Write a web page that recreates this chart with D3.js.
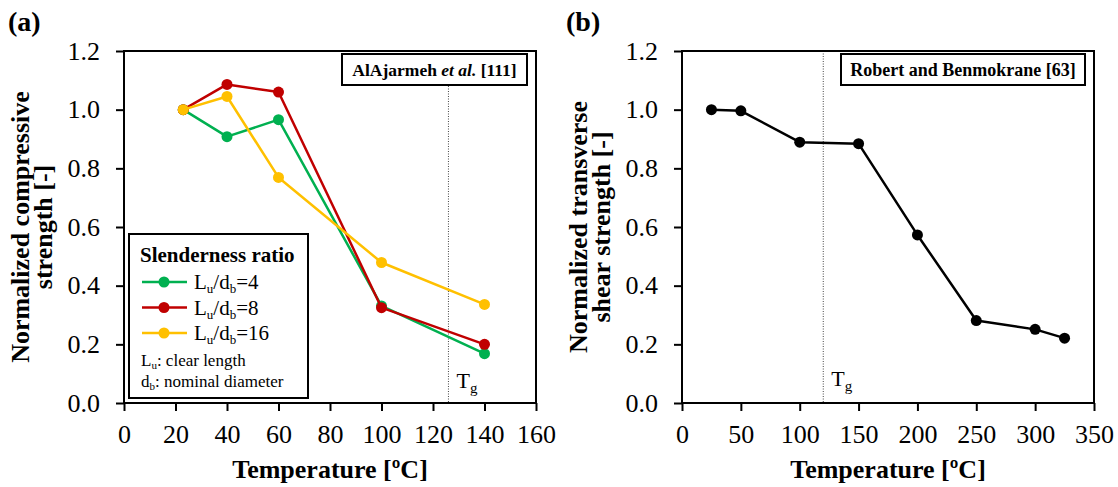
<!DOCTYPE html>
<html>
<head>
<meta charset="utf-8">
<script src="https://cdn.jsdelivr.net/npm/d3@7"></script>
<style>
body { margin: 0; background: #fff; }
svg text { font-family: "Liberation Serif", "Times New Roman", serif; }
</style>
</head>
<body>
<svg id="mainSVG" width="1118" height="487"></svg>
<script>
// ---- data ----
var tempA = [23, 40, 60, 100, 140];
var ratio4 = [1.0, 0.908, 0.966, 0.331, 0.168];
var ratio8 = [1.0, 1.086, 1.060, 0.325, 0.200];
var ratio16 = [1.0, 1.045, 0.769, 0.479, 0.336];
var seriesNamesA = ["4", "8", "16"];
var seriesColorsA = ["#00B050", "#C00000", "#FFC000"];

var tempB = [25, 50, 100, 150, 200, 250, 300, 325];
var shearB = [1.0, 0.996, 0.889, 0.884, 0.573, 0.281, 0.251, 0.221];

var yTicks = [0, 0.2, 0.4, 0.6, 0.8, 1.0, 1.2];
var xTicksA = [0, 20, 40, 60, 80, 100, 120, 140, 160];
var xTicksB = [0, 50, 100, 150, 200, 250, 300, 350];
var tgA = 126;
var tgB = 120;

var serif = "'Liberation Serif', 'Times New Roman', serif";
var svg = d3.select("#mainSVG");

function drawPanel(p) {
  var g = svg.append("g");
  var x = d3.scaleLinear().domain(p.xDomain).range([p.left, p.right]);
  var y = d3.scaleLinear().domain([0, 1.2]).range([403, 51]);

  // panel letter
  g.append("text")
    .attr("x", p.left - 116)
    .attr("y", 31)
    .attr("font-size", "28")
    .attr("font-weight", "bold")
    .text(p.letter);

  // Tg dotted line
  g.append("line")
    .attr("x1", x(p.tg)).attr("x2", x(p.tg))
    .attr("y1", y(1.2)).attr("y2", y(0))
    .attr("stroke", "#444")
    .attr("stroke-width", 1)
    .attr("stroke-dasharray", "1,1.5");

  var tgText = g.append("text")
    .attr("x", x(p.tg) + 8)
    .attr("y", p.tgY)
    .attr("font-size", "22");
  tgText.append("tspan").text("T");
  tgText.append("tspan").attr("dy", 5).attr("font-size", "15").text("g");

  // axes
  var xAxis = d3.axisBottom(x).tickValues(p.xTicks).tickSize(8).tickPadding(14).tickFormat(d3.format("d"));
  var yAxis = d3.axisLeft(y).tickValues(yTicks).tickSize(8).tickPadding(16).tickFormat(d3.format(".1f"));

  var gx = g.append("g").attr("transform", "translate(0,403)").call(xAxis);
  var gy = g.append("g").attr("transform", "translate(" + p.left + ",0)").call(yAxis);
  [gx, gy].forEach(function(a) {
    a.attr("font-family", null).attr("font-size", null);
    a.select(".domain").remove();
    a.selectAll("line").attr("stroke", "#000").attr("stroke-width", 2);
    a.selectAll("text")
      .style("font-family", serif)
      .style("font-size", "26px")
      .attr("fill", "#000");
  });

  // plot frame
  g.append("rect")
    .attr("x", p.left).attr("y", y(1.2))
    .attr("width", p.right - p.left).attr("height", y(0) - y(1.2))
    .attr("fill", "none")
    .attr("stroke", "#000")
    .attr("stroke-width", 2);

  // axis titles
  g.append("text")
    .attr("x", (p.left + p.right) / 2)
    .attr("y", 478)
    .attr("text-anchor", "middle")
    .attr("font-size", "26")
    .attr("font-weight", "bold")
    .text("Temperature [\u00BAC]");

  var yt = g.append("text")
    .attr("transform", "translate(" + (p.left - 95) + ",227) rotate(-90)")
    .attr("text-anchor", "middle")
    .attr("font-size", "26")
    .attr("font-weight", "bold");
  yt.append("tspan").attr("x", 0).attr("dy", 0).text(p.yTitle[0]);
  yt.append("tspan").attr("x", 0).attr("dy", 23).text(p.yTitle[1]);

  // source box
  var box = g.append("g");
  box.append("rect")
    .attr("x", p.boxX).attr("y", 54)
    .attr("width", p.right - 9 - p.boxX).attr("height", 31)
    .attr("fill", "#fff")
    .attr("stroke", "#000")
    .attr("stroke-width", 2);
  var bt = box.append("text")
    .attr("x", (p.boxX + p.right - 9) / 2)
    .attr("y", 75.5)
    .attr("text-anchor", "middle")
    .attr("font-size", p.boxFont)
    .attr("font-weight", "bold");
  p.source.forEach(function(s) {
    bt.append("tspan").attr("font-style", s.italic ? "italic" : "normal").text(s.t);
  });

  // series
  var line = d3.line()
    .x(function(d) { return x(d[0]); })
    .y(function(d) { return y(d[1]); });

  p.series.forEach(function(s) {
    var pts = p.xs.map(function(t, i) { return [t, s.values[i]]; });
    g.append("path")
      .datum(pts)
      .attr("d", line)
      .attr("fill", "none")
      .attr("stroke", s.color)
      .attr("stroke-width", 2.5)
      .attr("stroke-linejoin", "round");
    g.selectAll(null)
      .data(pts)
      .enter()
      .append("circle")
      .attr("cx", function(d) { return x(d[0]); })
      .attr("cy", function(d) { return y(d[1]); })
      .attr("r", 5.5)
      .attr("fill", s.color);
  });

  return g;
}

drawPanel({
  letter: "(a)",
  left: 124, right: 536,
  xDomain: [0, 160], xTicks: xTicksA,
  tg: tgA, tgY: 388,
  yTitle: ["Normalized compressive", "strength [-]"],
  boxX: 342, boxFont: "17.5",
  source: [{t: "AlAjarmeh "}, {t: "et al.", italic: true}, {t: " [111]"}],
  xs: tempA,
  series: [
    {values: ratio4, color: seriesColorsA[0]},
    {values: ratio8, color: seriesColorsA[1]},
    {values: ratio16, color: seriesColorsA[2]}
  ]
});

drawPanel({
  letter: "(b)",
  left: 682, right: 1094,
  xDomain: [0, 350], xTicks: xTicksB,
  tg: tgB, tgY: 386,
  yTitle: ["Normalized transverse", "shear strength [-]"],
  boxX: 841, boxFont: "18",
  source: [{t: "Robert and Benmokrane [63]"}],
  xs: tempB,
  series: [{values: shearB, color: "#000"}]
});

// legend for panel (a)
var leg = svg.append("g");
leg.append("rect")
  .attr("x", 129).attr("y", 234)
  .attr("width", 179).attr("height", 164)
  .attr("fill", "#fff")
  .attr("stroke", "#000")
  .attr("stroke-width", 2);

leg.append("text")
  .attr("x", 140).attr("y", 262)
  .attr("font-size", "21")
  .attr("font-weight", "bold")
  .text("Slenderness ratio");

seriesNamesA.forEach(function(n, i) {
  var cy = 282 + i * 25.5;
  leg.append("line")
    .attr("x1", 142).attr("x2", 187)
    .attr("y1", cy).attr("y2", cy)
    .attr("stroke", seriesColorsA[i])
    .attr("stroke-width", 2.5);
  leg.append("circle")
    .attr("cx", 164).attr("cy", cy).attr("r", 5.5)
    .attr("fill", seriesColorsA[i]);
  var t = leg.append("text")
    .attr("x", 194).attr("y", cy + 7)
    .attr("font-size", "21");
  t.append("tspan").text("L");
  t.append("tspan").attr("dy", 4).attr("font-size", "13").text("u");
  t.append("tspan").attr("dy", -4).text("/d");
  t.append("tspan").attr("dy", 4).attr("font-size", "13").text("b");
  t.append("tspan").attr("dy", -4).text("=" + n);
});

var n1 = leg.append("text").attr("x", 141).attr("y", 366).attr("font-size", "17");
n1.append("tspan").text("L");
n1.append("tspan").attr("dy", 3).attr("font-size", "11").text("u");
n1.append("tspan").attr("dy", -3).text(": clear length");

var n2 = leg.append("text").attr("x", 141).attr("y", 387).attr("font-size", "17");
n2.append("tspan").text("d");
n2.append("tspan").attr("dy", 3).attr("font-size", "11").text("b");
n2.append("tspan").attr("dy", -3).text(": nominal diameter");
</script>
</body>
</html>
